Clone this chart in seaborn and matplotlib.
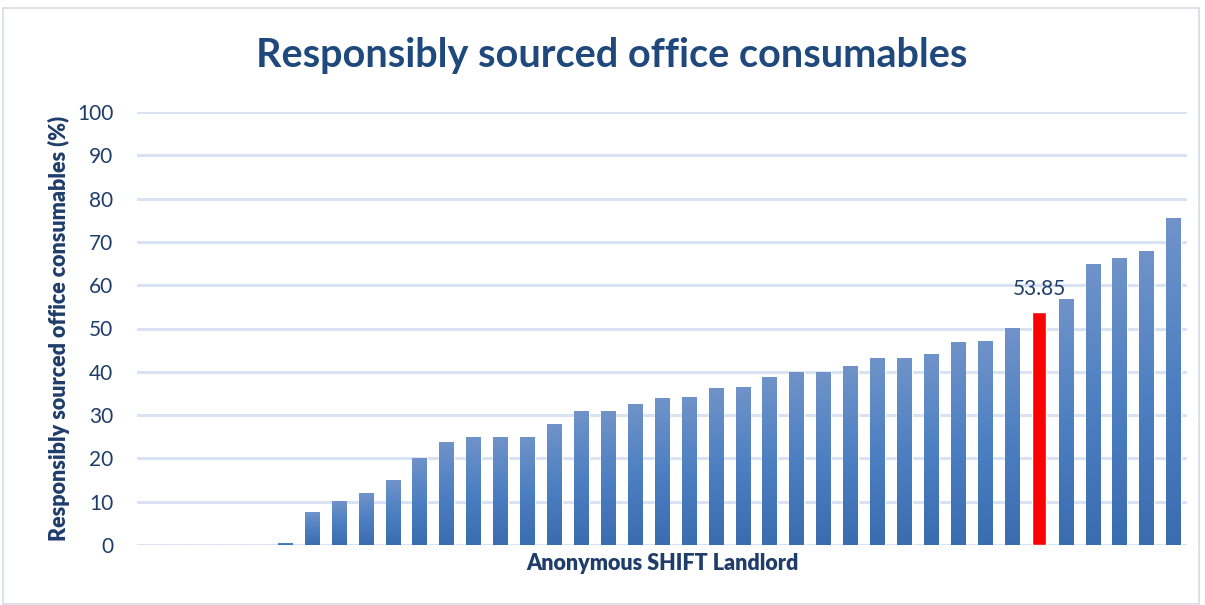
import numpy as np
import pandas as pd
import matplotlib
matplotlib.use("Agg")
import matplotlib.pyplot as plt
import seaborn as sns
from matplotlib.colors import LinearSegmentedColormap
from matplotlib.patches import Rectangle

# ---- data ----
landlords = [f"L{i+1}" for i in range(39)]
values = [0, 0, 0, 0, 0,
          0.5, 7.6, 10.2, 12.0, 15.0, 20.1, 23.8, 25.0, 25.0, 25.0,
          27.9, 30.9, 30.9, 32.5, 33.9, 34.2, 36.3, 36.5, 38.8, 40.0,
          40.0, 41.3, 43.2, 43.2, 44.1, 46.9, 47.1, 50.1, 53.85, 56.8,
          64.9, 66.3, 67.9, 75.5]
highlight = "L34"
highlight_label = "53.85"
yticks = [0, 10, 20, 30, 40, 50, 60, 70, 80, 90, 100]

title = "Responsibly sourced office consumables"
ylabel = "Responsibly sourced office consumables (%)"
xlabel = "Anonymous SHIFT Landlord"

# ---- styling ----
navy = "#1f3d6b"
title_col = "#1f497d"
grid_col = "#d9e2f3"
top_col = "#7093c9"
bot_col = "#3a6cb0"

sns.set_theme(style="white")
plt.rcParams["font.family"] = ["Lato", "DejaVu Sans"]

df = pd.DataFrame({"landlord": landlords, "value": values})
df["group"] = np.where(df["landlord"] == highlight, "hl", "other")

fig = plt.figure(figsize=(12.05, 6.05), dpi=100)
ax = fig.add_axes([137/1205, 1-545/605, (1187-137)/1205, (545-112)/605])

sns.barplot(data=df, x="landlord", y="value", hue="group",
            palette={"hl": "#ff0000", "other": bot_col},
            width=0.54, dodge=False, legend=False, ax=ax, zorder=3,
            saturation=1)

hi = landlords.index(highlight)

# gradient fill for blue bars
cmap = LinearSegmentedColormap.from_list("g", [bot_col, "#4d80c2", top_col])
grad = np.linspace(0, 1, 256).reshape(-1, 1)
for p in list(ax.patches):
    h = p.get_height()
    x0 = p.get_x(); w = p.get_width()
    idx = int(round(x0 + w / 2))
    if idx == hi or not np.isfinite(h) or h <= 0:
        continue
    im = ax.imshow(grad, cmap=cmap, origin="lower", aspect="auto",
                   extent=[x0, x0 + w, 0, h], zorder=4, vmin=0, vmax=1)
    im.set_clip_path(p)

ax.set_xlim(-0.5, len(landlords) - 0.5)
ax.set_ylim(0, 100)
ax.set_yticks(yticks)
ax.set_yticklabels([str(t) for t in yticks], fontsize=15, color=navy)
ax.set_xticks([])
ax.tick_params(axis="y", length=0, pad=17)
ax.yaxis.grid(True, color=grid_col, linewidth=2.2, zorder=0)
ax.set_axisbelow(True)
for s in ax.spines.values():
    s.set_visible(False)

# label on highlighted bar
ax.text(hi, values[hi] + 3.0, highlight_label, ha="center", va="bottom",
        fontsize=15, color=navy, zorder=5)

ax.set_ylabel(ylabel, fontsize=15.5, fontweight="heavy", color=navy, labelpad=5)
ax.set_xlabel(xlabel, fontsize=15.5, fontweight="heavy", color=navy, labelpad=6)

fig.text(612/1205, 1-56/605, title, ha="center", va="center",
         fontsize=28.5, fontweight="bold", color=title_col)

fig.patches.append(Rectangle((3/1205, 0.002), 1196/1205, 1-9/605,
                             transform=fig.transFigure, fill=False,
                             edgecolor="#d6dce5", linewidth=1.2))

fig.savefig("out.png", dpi=100)
